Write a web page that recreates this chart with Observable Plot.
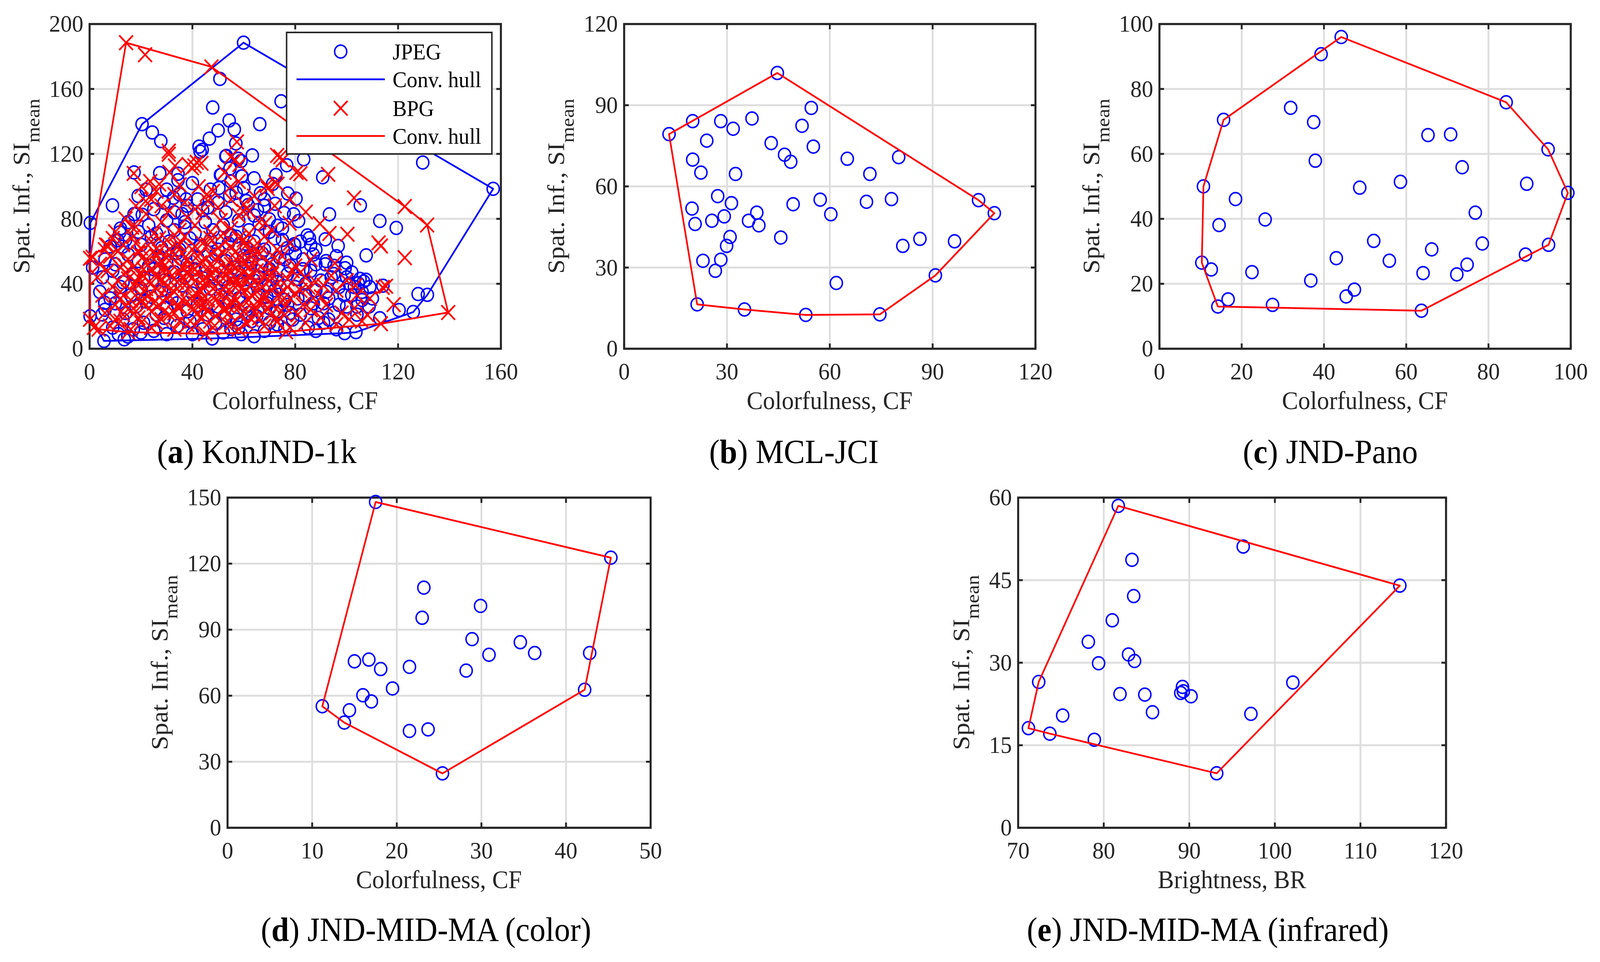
<!DOCTYPE html>
<html><head><meta charset="utf-8">
<script src="https://cdn.jsdelivr.net/npm/d3@7"></script>
<script src="https://cdn.jsdelivr.net/npm/@observablehq/plot@0.6"></script>
<style>
html,body{margin:0;padding:0;background:#fff;overflow:hidden;}
#root{position:absolute;left:0;top:0;width:4349px;height:2462px;background:#fff;overflow:hidden;transform-origin:0 0;}
#root > svg{position:absolute;}
</style></head><body><div id="root"></div>
<script>
// ---------- DATA ----------
// (a) KonJND-1k : JPEG (circles)
const konJpeg = [
[59.9,188.5],[20.4,138.3],[0.3,77.5],[1.2,50],[0.2,20],[5.6,4.8],[13.5,5.8],[64,7.7],[99.2,9.6],[103.6,10.2],[112.9,18.8],[120.4,23.8],[125.9,22.6],[127.8,33.7],[131.4,33.2],[157,98.5],[129.6,114.7],[50.7,166.2],[47.9,148.6],[24.4,133.2],[27.7,127.9],[74.5,152.4],[66.2,138.3],[54.3,140.6],[56.3,135.1],[50,134.5],[46.6,129.4],[42.6,124.5],[43.8,122.5],[63.3,119.1],[56.9,126.5],[53.2,118.8],[58.9,115.6],[76.7,113],[83.3,116.7],[59.1,106.2],[51.2,107.1],[64,105],[71.2,101.5],[90.7,105.6],[8.9,88.3],[17.3,108.6],[27.3,108.2],[34.4,107.8],[34.4,103.8],[18.9,94.1],[77.1,95.6],[80.3,92.5],[66.5,95.8],[105.3,88.3],[112.9,78.7],[119.3,74.4],[93.3,82.8],[81.3,78.7],[84.7,69.8],[85.5,68.1],[91.7,67.4],[96.7,63.3],[107.6,57.5],[79.8,64],[91.7,52],[95.1,51],[99.4,49.6],[106.6,41.4],[105.2,43],[104.5,40.3],[107.5,42.5],[114.1,38.8],[108.7,26],[17.3,82.9],[20.5,82.5],[11.7,71.6],[10.9,66.8],[12.8,62.8],[5.9,28.3],[4.9,21.1],[11.2,9],[14.9,7.5],[55,12.3],[47.7,6.3],[32.6,93],[35,95],[37.6,92],[43,121.4],[53,118.5],[57.8,117],[50.9,107],[54.6,111],[59.3,106.2],[50.3,99],[54.5,94.1],[61.7,88.5],[65.3,85.3],[72.5,107],[72.2,89.3],[75.7,83.6],[79.4,82.8],[69.9,79.7],[73.1,75.7],[79.6,64.4],[44,85.3],[37.1,78],
[25,86],[29,90],[33,84],[38,88],[42,92],[46,87],[50,90],[53,84],[57,96],[61,91],[64,82],[68,88],[30,98],[40,102],[47,98],[55,103],[22,98],[36,83],[60,99],[68,92],
[12,74],[15,78],[19,72],[23,76],[26,71],[30,79],[33,73],[37,75],[41,71],[45,78],[48,73],[52,76],[55,70],[58,79],[62,73],[66,77],[70,72],[75,74],
[8,63],[14,67],[20,64],[24,69],[28,62],[31,66],[35,61],[39,68],[43,63],[47,67],[50,61],[54,65],[57,69],[61,62],[64,66],[68,61],[72,68],[77,62],[82,66],[88,61],
[6,55],[10,52],[15,58],[19,54],[23,51],[27,57],[30,53],[34,59],[38,52],[42,56],[45,51],[49,58],[53,54],[56,50],[60,57],[63,53],[67,59],[71,52],[74,56],[78,51],[83,55],[87,58],[92,54],
[5,44],[9,48],[13,41],[17,46],[21,43],[25,49],[29,42],[33,47],[37,44],[41,49],[44,41],[48,46],[52,43],[55,48],[59,42],[62,47],[66,44],[70,49],[73,41],[77,46],[81,43],[86,48],[90,42],[95,46],[100,44],[103,38],
[4,35],[8,31],[12,38],[16,33],[20,37],[24,32],[28,36],[32,31],[36,39],[40,34],[43,30],[47,37],[51,33],[54,38],[58,31],[61,35],[65,39],[69,32],[72,36],[76,30],[80,38],[84,33],[88,36],[93,31],[97,38],[102,33],[106,30],
[6,24],[10,28],[14,22],[18,26],[22,29],[26,21],[30,25],[34,28],[38,23],[42,27],[46,21],[50,26],[54,29],[57,22],[61,26],[65,20],[69,28],[73,23],[77,27],[82,21],[86,25],[91,28],[95,22],[100,26],[104,21],
[9,13],[13,18],[17,12],[21,16],[25,11],[29,19],[34,14],[39,17],[44,12],[49,16],[53,19],[58,13],[63,17],[68,11],[73,15],[79,18],[85,13],[91,16],[96,12],
[57,18],[62,22],[66,33],[70,25],[74,38],[78,22],[81,31],[84,40],[87,28],[89,19],[92,35],[94,44],[97,27],[99,33],[101,40],[104,26],[106,35],[109,38],[83,49],[88,52],[76,55],[71,45],[67,51],[64,42],[58,47],[62,57],[96,57],[100,53],[86,64],[75,67],[80,59],[102,47],[110,31],[93,18],[88,11],[76,12],[70,16],[59,9],[52,10],[40,9],[30,9],[20,10]
];
// (a) KonJND-1k : BPG (crosses)
const konBpg = [
[14.2,188.5],[21.6,181.1],[47.4,173.6],[0.2,55.7],[0.2,18.1],[1.7,13.1],[3.5,12],[15,10.2],[45,9.2],[76.4,10.4],[113.3,15.4],[139.5,22.3],[131.3,76.2],[122.6,87.6],[122.6,56.1],[112.4,65.2],[113.3,63.3],[102.9,92.9],[92.8,107.4],[82,107.8],[73,119.1],[75.1,116.3],[72.3,102.5],[69.3,98.7],[57.3,127.4],[56.7,116.3],[52.5,108.7],[41.7,114.8],[38.5,113.5],[40.8,112.6],[30.8,121.7],[31.1,108.7],[17.2,108],[84.1,84.2],[89.6,77],[93.3,71],[100.3,70.5],[95.4,52.7],[114,37.8],[115.3,38.5],[118.3,27.2],[6.4,63.9],[7,63.6],[1.2,56.4],[16.5,74.9],[30.8,119.8],[43.5,114.2],[39.8,111.4],[33.2,112.6],[54.9,118.2],[58.3,113.4],[52.5,108.6],[74.2,118.2],[68.9,100.6],[73.1,101.4],[80.5,108.6],[20.2,99.8],[23.6,103],[27.1,101.4],[21.8,90.9],[42.4,99.8],[45.6,95],[54.9,99.8],[59.9,84.5],[68.3,77.3],[77.8,77.3],[103.4,39],
[24,92],[28,88],[33,95],[37,90],[41,86],[46,91],[50,87],[55,92],[60,89],[64,94],[26,97],[48,97],[35,101],[58,103],[18,88],[62,85],[72,88],[78,92],
[10,72],[14,80],[18,75],[22,83],[25,71],[28,78],[31,85],[35,73],[38,81],[41,76],[44,84],[47,72],[51,79],[55,74],[58,82],[62,71],[66,78],[71,73],
[6,61],[9,68],[13,64],[17,69],[20,62],[24,66],[27,60],[30,67],[34,63],[37,69],[40,61],[44,65],[47,68],[50,62],[53,66],[57,60],[60,67],[64,63],[68,69],[73,61],[78,65],
[4,52],[8,57],[12,50],[15,55],[19,59],[22,53],[26,57],[29,51],[32,56],[36,59],[39,52],[42,57],[46,50],[49,55],[52,59],[55,52],[59,56],[62,50],[66,58],[70,53],[75,57],[80,51],[86,55],
[3,44],[7,48],[11,42],[14,47],[18,41],[21,45],[24,49],[28,43],[31,47],[34,41],[38,46],[41,49],[44,42],[47,46],[50,40],[54,48],[57,43],[60,47],[64,41],[68,45],[72,49],[77,43],[82,47],[88,41],[94,45],[100,42],
[5,33],[9,38],[12,31],[16,36],[19,39],[23,33],[26,37],[30,31],[33,35],[37,39],[40,32],[43,36],[46,30],[50,34],[53,38],[56,31],[60,35],[63,39],[67,32],[71,36],[75,30],[80,34],[85,38],[90,32],[96,36],[104,33],[109,31],
[6,22],[10,27],[13,21],[17,25],[20,29],[24,23],[27,27],[31,21],[35,26],[38,29],[42,22],[45,26],[49,20],[52,24],[56,28],[59,21],[63,25],[67,29],[71,22],[76,26],[81,21],[86,24],[92,27],[98,22],[103,25],[108,21],
[8,14],[12,17],[16,12],[20,16],[24,13],[28,18],[33,12],[38,15],[43,19],[48,13],[53,16],[58,12],[63,18],[68,14],[73,17],[78,13],[84,16],[90,19],[96,15],[101,18],[106,17],
[16,30],[19,44],[22,37],[25,28],[27,52],[29,40],[32,45],[34,26],[36,50],[39,38],[41,28],[43,53],[45,44],[48,37],[51,28],[53,45],[55,35],[57,50],[59,27],[61,42],[63,33],[65,48],[67,38],[69,25],[25,60],[33,58],[47,58],[21,49],[31,33],[49,48],[58,40],[62,55],[70,42],[74,34],[18,23],[40,44],[54,22],[30,56],[44,31],[66,28],
[10,18],[14,26],[12,35],[15,43],[13,52],[11,60],[19,19],[22,27],[20,33],[23,41],[17,50],[21,57],[18,65],[26,16],[29,23],[27,32],[30,38],[26,44],[29,47],[28,54],[31,61],[27,68],[35,17],[33,22],[36,30],[34,37],[37,42],[35,47],[38,55],[35,64],[33,70],[41,14],[40,24],[43,27],[42,33],[39,49],[44,39],[42,47],[45,55],[41,63],[47,17],[46,23],[49,30],[47,41],[51,45],[48,51],[50,57],[46,64],[52,71],[55,15],[54,26],[52,33],[56,39],[55,43],[53,51],[57,55],[55,62],[58,68],[61,16],[60,23],[62,30],[59,37],[62,45],[60,52],[63,59],[61,64],[66,19],[65,24],[68,33],[66,40],[69,47],[65,53],[67,62],[72,18],[71,27],[73,40],[71,46],[72,56],[76,21],[78,31],[77,38],[79,48],[83,27],[82,36],[87,31],[91,39],[84,44]
];
// (b) MCL-JCI
const mclJci = [
[13.1,79.3],[20.0,84.1],[28.2,84.1],[31.8,81.3],[37.3,85.1],[44.7,101.9],[54.6,89.0],[51.9,82.4],[24.1,76.9],[42.9,76.0],[55.2,74.7],[46.8,71.7],[48.6,69.1],[20.0,69.9],[22.4,65.1],[32.5,64.6],[65.1,70.2],[71.7,64.6],[80.1,70.8],[27.3,56.4],[31.3,53.8],[19.8,51.8],[20.7,46.1],[25.6,47.3],[29.2,48.9],[36.3,47.3],[38.7,50.3],[39.3,45.6],[49.3,53.4],[57.2,55.1],[60.3,49.7],[70.7,54.3],[78.0,55.3],[103.4,54.9],[108.0,50.1],[30.9,41.3],[29.9,38.0],[45.7,41.1],[86.3,40.6],[81.3,38.0],[96.4,39.7],[23.0,32.5],[28.2,32.9],[26.6,28.8],[90.8,27.1],[61.9,24.3],[21.3,16.4],[35.1,14.5],[53.0,12.5],[74.6,12.7]
];
// (c) JND-Pano
const jndPano = [
[44.2,96.0],[39.3,90.7],[15.6,70.5],[31.9,74.2],[37.5,69.8],[37.9,57.9],[84.3,75.9],[94.5,61.4],[65.3,65.8],[70.8,66.0],[73.6,55.9],[58.6,51.4],[48.7,49.6],[89.3,50.8],[99.3,48.0],[10.7,50.0],[18.5,46.1],[25.7,39.8],[14.5,38.1],[76.8,41.9],[52.1,33.2],[78.5,32.4],[66.2,30.6],[94.6,32.0],[89.0,29.0],[43.0,27.9],[55.9,27.1],[74.8,25.9],[10.3,26.5],[12.6,24.4],[22.5,23.6],[64.1,23.3],[72.3,22.9],[36.8,21.0],[47.4,18.2],[45.4,16.1],[16.7,15.2],[14.2,13.0],[27.5,13.5],[63.7,11.7]
];
// (d) JND-MID-MA (color)
const midColor = [
[17.5,148.0],[45.3,122.7],[23.2,109.1],[29.9,100.8],[23.0,95.4],[28.9,85.7],[34.6,84.3],[36.3,79.4],[30.9,78.6],[42.8,79.4],[15.0,75.6],[16.7,76.4],[18.1,72.1],[21.5,73.1],[28.2,71.4],[19.5,63.3],[16.0,60.2],[17.0,57.4],[42.2,62.7],[11.2,55.2],[14.4,53.4],[13.8,47.8],[21.5,44.0],[23.7,44.7],[25.4,24.7]
];
// (e) JND-MID-MA (infrared)
const midInfrared = [
[81.7,58.5],[96.3,51.1],[83.3,48.7],[114.6,44.0],[83.5,42.1],[81.0,37.7],[78.2,33.8],[82.9,31.5],[83.6,30.3],[79.4,29.9],[72.4,26.5],[102.1,26.4],[89.2,25.6],[89.0,24.5],[89.3,24.8],[90.2,23.9],[81.9,24.3],[84.8,24.2],[85.7,21.0],[97.2,20.7],[75.2,20.4],[71.2,18.1],[73.7,17.1],[78.9,16.0],[93.2,9.9]
];

// tick values
const ticksAx = [0,40,80,120,160], ticksAy = [0,40,80,120,160,200];
const ticksBx = [0,30,60,90,120], ticksBy = [0,30,60,90,120];
const ticksCx = [0,20,40,60,80,100], ticksCy = [0,20,40,60,80,100];
const ticksDx = [0,10,20,30,40,50], ticksDy = [0,30,60,90,120,150];
const ticksEx = [70,80,90,100,110,120], ticksEy = [0,15,30,45,60];

// text
const labelCF = "Colorfulness, CF";
const labelBR = "Brightness, BR";
const labelSI = "Spat. Inf., SI";
const labelSub = "mean";
const captionLetters = ["a","b","c","d","e"];
const captionNames = ["KonJND-1k","MCL-JCI","JND-Pano","JND-MID-MA (color)","JND-MID-MA (infrared)"];
const legendLabels = ["JPEG","Conv. hull","BPG","Conv. hull"];

// ---------- RENDERING ----------
const FONT = "Liberation Serif, Times New Roman, serif";
const INK = "#262626";
const BLUE = "#0000ff", RED = "#ff0000";
const ML = 240, MR = 70, MT = 40, MB = 200;
const root = document.getElementById("root");
{
  // fit the 4349x2462 layout to the actual viewport
  const sx = window.innerWidth / 4349, sy = window.innerHeight / 2462;
  if (sx > 0 && sy > 0 && (Math.abs(sx - 1) > 0.002 || Math.abs(sy - 1) > 0.002)) {
    root.style.transform = `scale(${sx},${sy})`;
  }
}

function closedHull(pts) {
  const h = d3.polygonHull(pts.map(p => [p[0], p[1]]));
  return h.concat([h[0]]);
}

function panel(cfg) {
  const W = ML + cfg.w + MR, H = MT + cfg.h + MB;
  const marks = [
    Plot.gridX(cfg.xt, {stroke: "#dedede", strokeOpacity: 1, strokeWidth: 5}),
    Plot.gridY(cfg.yt, {stroke: "#dedede", strokeOpacity: 1, strokeWidth: 5}),
    Plot.frame({stroke: INK, strokeWidth: 5.5}),
    Plot.axisX(cfg.xt, {anchor: "bottom", tickSize: -13, tickPadding: 47, stroke: INK, strokeWidth: 5, fill: INK, fontSize: 62, label: null}),
    Plot.axisX(cfg.xt, {anchor: "top", tickSize: -13, tickFormat: () => "", stroke: INK, strokeWidth: 5, label: null}),
    Plot.axisY(cfg.yt, {anchor: "left", tickSize: -13, tickPadding: 30, stroke: INK, strokeWidth: 5, fill: INK, fontSize: 62, label: null}),
    Plot.axisY(cfg.yt, {anchor: "right", tickSize: -13, tickFormat: () => "", stroke: INK, strokeWidth: 5, label: null})
  ];
  for (const s of cfg.series) {
    marks.push(Plot.dot(s.data, {x: d => d[0], y: d => d[1], r: s.symbol === "times" ? 17 : 16.5, symbol: s.symbol, stroke: s.color, strokeWidth: s.symbol === "times" ? 4.5 : 4, fill: "none"}));
    if (s.hull) marks.push(Plot.line(closedHull(s.data), {x: d => d[0], y: d => d[1], stroke: s.hull, strokeWidth: 4.5, curve: "linear"}));
  }
  const svgEl = Plot.plot({
    width: W, height: H,
    marginLeft: ML, marginRight: MR, marginTop: MT, marginBottom: MB,
    x: {domain: [cfg.xt[0], cfg.xt[cfg.xt.length - 1]]},
    y: {domain: [cfg.yt[0], cfg.yt[cfg.yt.length - 1]]},
    style: {fontFamily: FONT, fontSize: "62px", color: INK, background: "transparent", overflow: "visible"},
    marks
  });
  svgEl.style.left = (cfg.left - ML) + "px";
  svgEl.style.top = (cfg.top - MT) + "px";
  svgEl.style.maxWidth = "none";
  root.appendChild(svgEl);
  const svg = d3.select(svgEl);
  svg.append("text").attr("x", ML + cfg.w / 2).attr("y", MT + cfg.h + 155)
    .attr("text-anchor", "middle").attr("font-family", FONT).attr("font-size", 66).attr("fill", INK).text(cfg.xl);
  const yl = svg.append("text")
    .attr("transform", `translate(${ML - cfg.yoff},${MT + cfg.h / 2}) rotate(-90)`)
    .attr("text-anchor", "middle").attr("font-family", FONT).attr("font-size", 66).attr("fill", INK);
  yl.append("tspan").text(labelSI);
  yl.append("tspan").attr("dy", 27).attr("font-size", 52).text(labelSub);
  return svg;
}

const pa = panel({left: 243, top: 61, w: 1118, h: 831, xt: ticksAx, yt: ticksAy, xl: labelCF, yoff: 163,
  series: [{data: konJpeg, symbol: "circle", color: BLUE, hull: BLUE}, {data: konBpg, symbol: "times", color: RED, hull: RED}]});
panel({left: 1696, top: 61, w: 1118, h: 831, xt: ticksBx, yt: ticksBy, xl: labelCF, yoff: 163,
  series: [{data: mclJci, symbol: "circle", color: BLUE, hull: RED}]});
panel({left: 3151, top: 61, w: 1118, h: 831, xt: ticksCx, yt: ticksCy, xl: labelCF, yoff: 163,
  series: [{data: jndPano, symbol: "circle", color: BLUE, hull: RED}]});
panel({left: 618, top: 1273, w: 1150, h: 845, xt: ticksDx, yt: ticksDy, xl: labelCF, yoff: 163,
  series: [{data: midColor, symbol: "circle", color: BLUE, hull: RED}]});
panel({left: 2767, top: 1273, w: 1163, h: 845, xt: ticksEx, yt: ticksEy, xl: labelBR, yoff: 133,
  series: [{data: midInfrared, symbol: "circle", color: BLUE, hull: RED}]});

// legend of panel (a)
{
  const g = pa.append("g");
  const bx = ML + 536, by = MT + 22;
  g.append("rect").attr("x", bx).attr("y", by).attr("width", 558).attr("height", 311)
    .attr("fill", "#fff").attr("stroke", INK).attr("stroke-width", 4);
  const rows = [MT + 71, MT + 142, MT + 216, MT + 287];
  const mx = ML + 683, lx1 = ML + 563, lx2 = ML + 803, tx = ML + 824;
  g.append("circle").attr("cx", mx).attr("cy", rows[0]).attr("r", 16.5).attr("fill", "none").attr("stroke", BLUE).attr("stroke-width", 4);
  g.append("line").attr("x1", lx1).attr("x2", lx2).attr("y1", rows[1]).attr("y2", rows[1]).attr("stroke", BLUE).attr("stroke-width", 4.5);
  const r = 18.6;
  g.append("path").attr("d", `M${mx - r},${rows[2] - r}L${mx + r},${rows[2] + r}M${mx - r},${rows[2] + r}L${mx + r},${rows[2] - r}`)
    .attr("stroke", RED).attr("stroke-width", 4.5).attr("fill", "none");
  g.append("line").attr("x1", lx1).attr("x2", lx2).attr("y1", rows[3]).attr("y2", rows[3]).attr("stroke", RED).attr("stroke-width", 4.5);
  legendLabels.forEach((t, i) => {
    g.append("text").attr("x", tx).attr("y", rows[i]).attr("dy", "0.34em").attr("text-anchor", "start").attr("font-family", FONT)
      .attr("font-size", 58).attr("fill", "#000").text(t);
  });
}

// captions
{
  const cap = d3.select(root).append("svg").attr("width", 4349).attr("height", 2462)
    .style("left", "0px").style("top", "0px");
  const pos = [[698, 1185], [2158, 1185], [3616, 1185], [1158, 2408], [3283, 2408]];
  pos.forEach(([x, y], i) => {
    const t = cap.append("text").attr("x", x).attr("y", y).attr("text-anchor", "middle")
      .attr("font-family", FONT).attr("font-size", 86).attr("fill", "#000");
    t.append("tspan").text("(");
    t.append("tspan").attr("font-weight", "bold").text(captionLetters[i]);
    t.append("tspan").text(") " + captionNames[i]);
  });
}
</script>
</body></html>
